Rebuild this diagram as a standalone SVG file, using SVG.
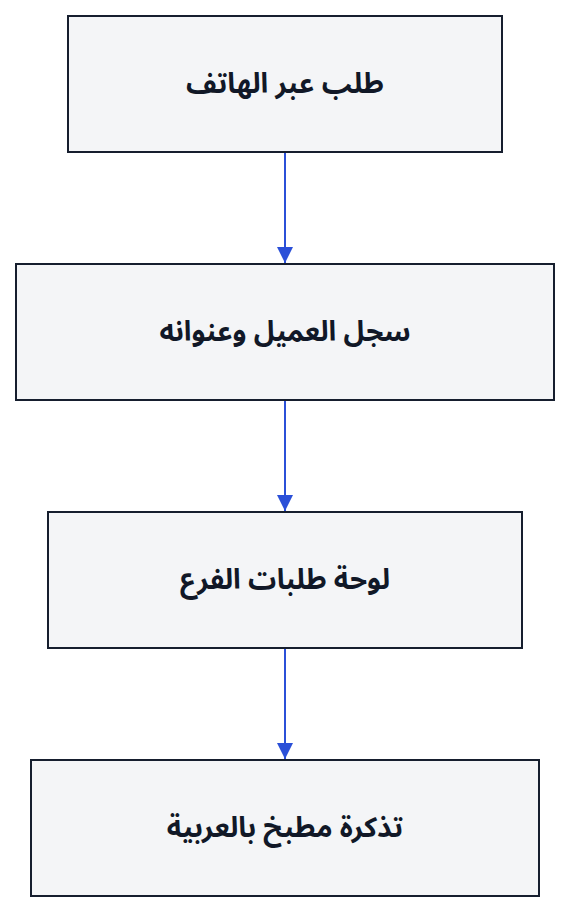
<svg xmlns="http://www.w3.org/2000/svg" width="570" height="912" viewBox="0 0 570 912">
<style>
.box{fill:#f4f5f7;stroke:#161e2e;stroke-width:2}
.lbl{font-family:"Noto Sans Arabic","Noto Sans","DejaVu Sans",sans-serif;font-size:28px;font-weight:bold;fill:#111827;text-anchor:middle;dominant-baseline:central}
.edge{stroke:#2b50d8;stroke-width:2;fill:none}
</style>
<defs>
<marker id="arr" viewBox="0 0 16 16" refX="16" refY="8" markerWidth="16" markerHeight="16" markerUnits="userSpaceOnUse" orient="auto">
<path d="M0,0 L16,8 L0,16 Z" fill="#2b50d8"/>
</marker>
</defs>
<rect width="570" height="912" fill="#ffffff"/>
<g id="connectors">
<line class="edge" x1="285" y1="152" x2="285" y2="263" marker-end="url(#arr)"/>
<line class="edge" x1="285" y1="400" x2="285" y2="511" marker-end="url(#arr)"/>
<line class="edge" x1="285" y1="648" x2="285" y2="759" marker-end="url(#arr)"/>
</g>
<g id="n1">
<rect class="box" x="68" y="16" width="434" height="136"/>
<text class="lbl" x="285" y="84" direction="rtl">طلب عبر الهاتف</text>
</g>
<g id="n2">
<rect class="box" x="16" y="264" width="538" height="136"/>
<text class="lbl" x="285" y="332" direction="rtl">سجل العميل وعنوانه</text>
</g>
<g id="n3">
<rect class="box" x="48" y="512" width="474" height="136"/>
<text class="lbl" x="285" y="580" direction="rtl">لوحة طلبات الفرع</text>
</g>
<g id="n4">
<rect class="box" x="31" y="760" width="508" height="136"/>
<text class="lbl" x="285" y="828" direction="rtl">تذكرة مطبخ بالعربية</text>
</g>
</svg>
